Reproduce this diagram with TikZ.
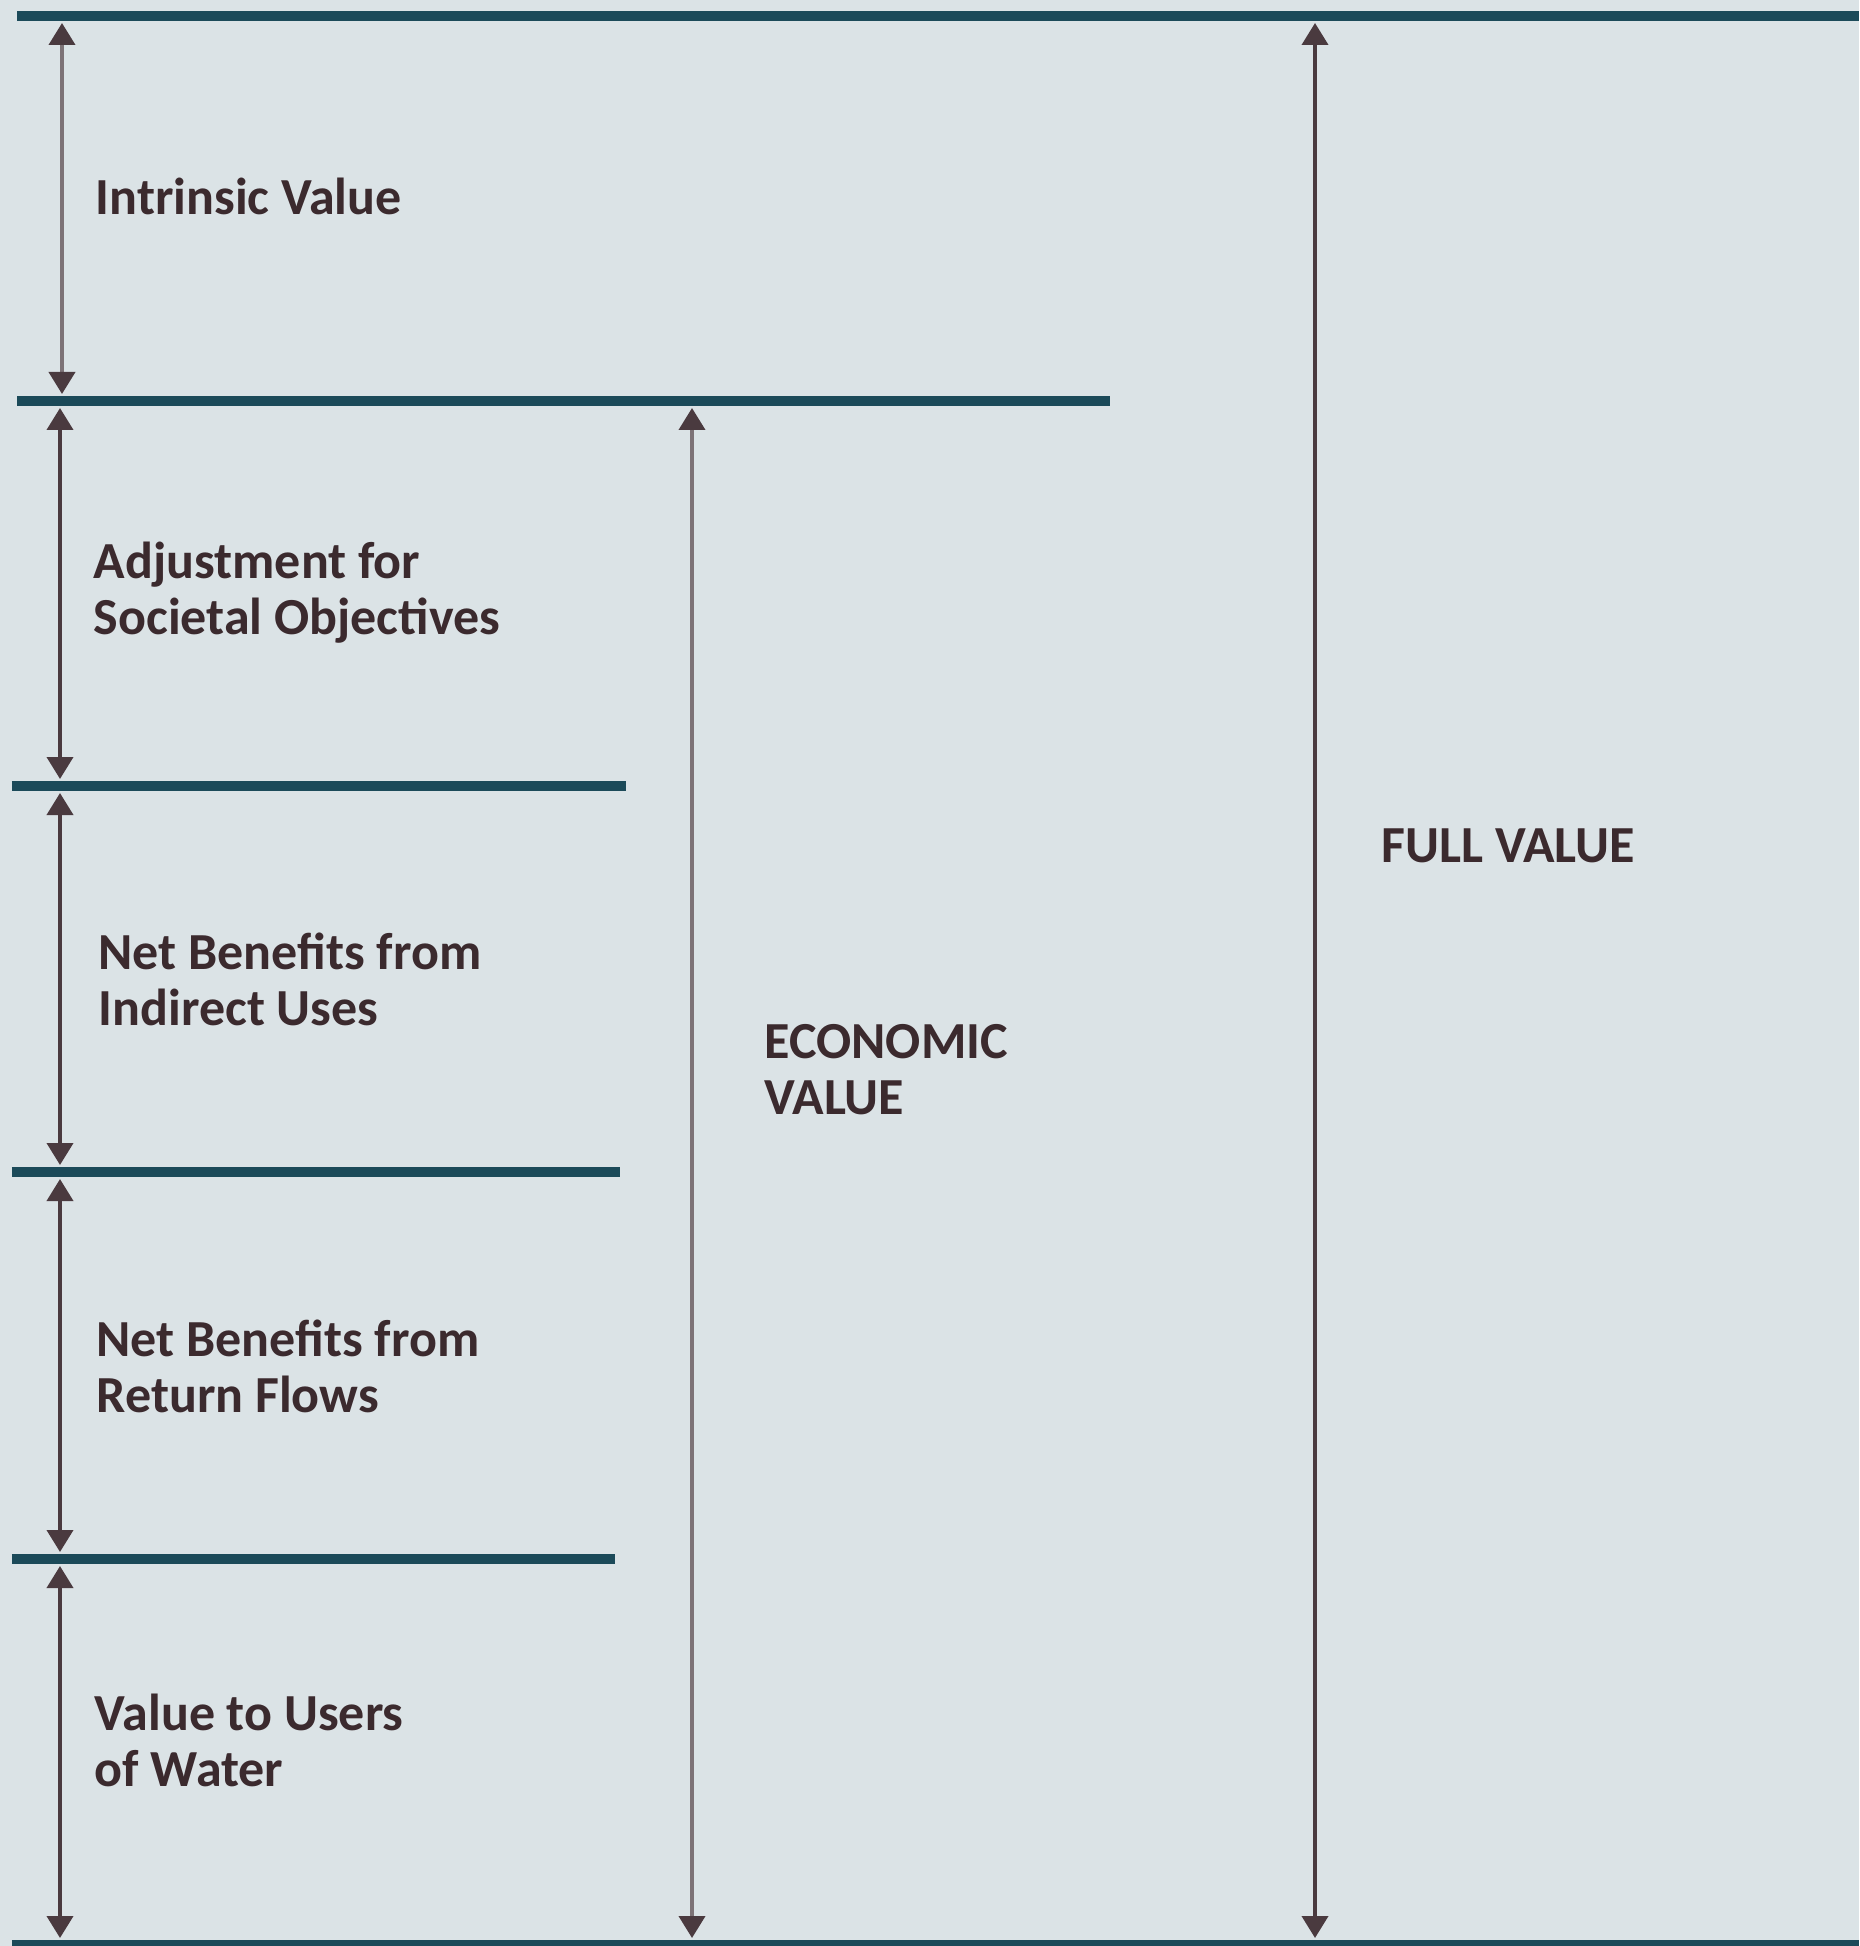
\documentclass[tikz,border=0pt]{standalone}
\usepackage{fontspec}
\setmainfont{Carlito}
\usetikzlibrary{arrows.meta}
\usetikzlibrary{positioning}
\definecolor{bgpanel}{HTML}{DBE3E6}
\definecolor{rulecol}{HTML}{1B4A59}
\definecolor{arrowcol}{HTML}{4A3A3F}
\definecolor{arrowgray}{HTML}{7D7377}
\definecolor{textcol}{HTML}{3B2A2E}
\tikzset{
    level/.style = {line width=2.6pt, draw=rulecol},
    span/.style = {{Triangle[width=2.6mm,length=2.2mm,color=arrowcol]}-{Triangle[width=2.6mm,length=2.2mm,color=arrowcol]},line width=1.1pt,draw=arrowcol,shorten <=0.7mm,shorten >=0.7mm},
    spang/.style = {span,draw=arrowgray},
    tag/.style = {anchor=base west, align=left, inner sep=0pt, text=textcol, font=\bfseries\fontsize{14.8}{15.9}\selectfont}
}

\begin{document}
\begin{tikzpicture}
\useasboundingbox (0,0) rectangle (18.59,-19.46);
\fill[bgpanel] (0,0) rectangle (18.59,-19.46);
% columns of the arrows
\coordinate (colI) at (0.62,0);
\coordinate (colA) at (0.60,0);
\coordinate (colE) at (6.92,0);
\coordinate (colF) at (13.15,0);
% levels
\coordinate (lev0) at (0.17,-0.16);   \coordinate (lev0e) at (18.59,-0.16);
\coordinate (lev1) at (0.17,-4.01);   \coordinate (lev1e) at (11.10,-4.01);
\coordinate (lev2) at (0.12,-7.86);   \coordinate (lev2e) at (6.26,-7.86);
\coordinate (lev3) at (0.12,-11.72);  \coordinate (lev3e) at (6.20,-11.72);
\coordinate (lev4) at (0.12,-15.59);  \coordinate (lev4e) at (6.15,-15.59);
\coordinate (lev5) at (0.12,-19.45);  \coordinate (lev5e) at (18.59,-19.45);
\draw[level] (lev0) -- (lev0e);
\draw[level] (lev1) -- (lev1e);
\draw[level] (lev2) -- (lev2e);
\draw[level] (lev3) -- (lev3e);
\draw[level] (lev4) -- (lev4e);
\draw[level] (lev5) -- (lev5e);
% labels (base = last line)
\node[tag] at (0.95,-2.15) (intr) {Intrinsic Value};
\node[tag] at (0.93,-6.34) (adj) {Adjustment for\\Societal Objectives};
\node[tag] at (0.98,-10.25) (netind) {Net Benefits from\\Indirect Uses};
\node[tag] at (0.96,-14.12) (netret) {Net Benefits from\\Return Flows};
\node[tag] at (0.94,-17.86) (users) {Value to Users\\of Water};
\node[tag] at (7.64,-11.14) (econ) {ECONOMIC\\VALUE};
\node[tag] at (13.81,-8.62) (full) {FULL VALUE};
%
\draw[spang] (colI |- lev0) -- (colI |- lev1);
\draw[span] (colA |- lev1) -- (colA |- lev2);
\draw[span] (colA |- lev2) -- (colA |- lev3);
\draw[span] (colA |- lev3) -- (colA |- lev4);
\draw[span] (colA |- lev4) -- (colA |- lev5);
\draw[spang] (colE |- lev1) -- (colE |- lev5);
\draw[span] (colF |- lev0) -- (colF |- lev5);
\end{tikzpicture}
\end{document}
